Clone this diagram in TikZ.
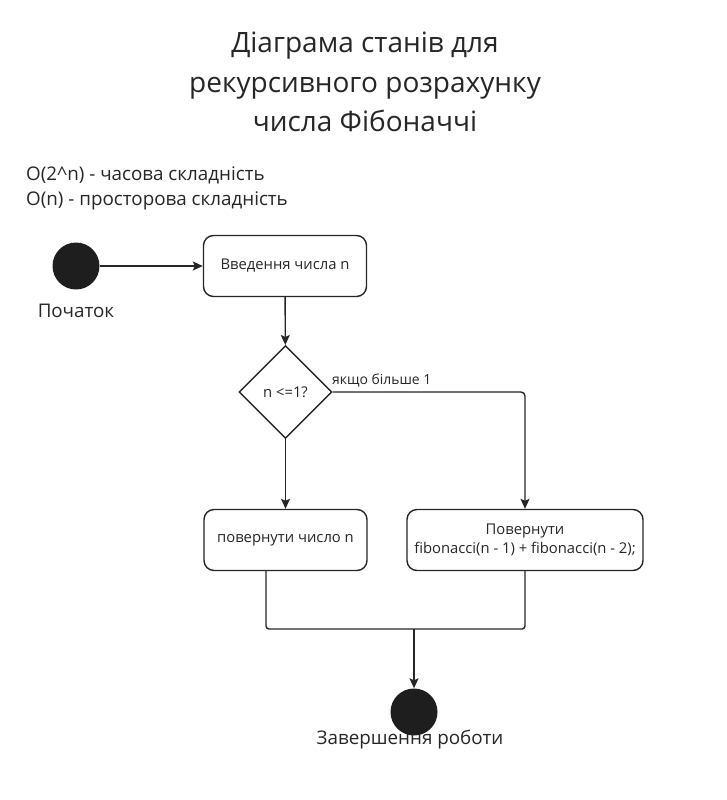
\documentclass[tikz,border=0pt]{standalone}
\usepackage{fontspec}
\setmainfont{Open Sans}
\usetikzlibrary{shapes.geometric,arrows.meta,calc}
\definecolor{ink}{HTML}{262626}
\definecolor{dot}{HTML}{1E1E1E}
\tikzset{
  stbox/.style={draw=ink, line width=1.4pt, rounded corners=10pt, minimum width=163pt, minimum height=61pt, align=center, text=ink, font=\fontsize{14.8}{19}\selectfont, inner sep=0pt},
  decision/.style={draw=ink, line width=1.4pt, diamond, aspect=1, minimum size=93pt, inner sep=0pt, text=ink, font=\fontsize{14.8}{19}\selectfont},
  blob/.style={circle, fill=dot, minimum size=47pt, inner sep=0pt},
  conn/.style={draw=ink, line width=1.4pt, -{Stealth[length=10pt,width=9pt,inset=2pt]}},
  plain/.style={draw=ink, line width=1.4pt, rounded corners=3pt},
  lbl/.style={text=ink, inner sep=0pt, font=\fontsize{18.8}{24}\selectfont},
}
\begin{document}
\begin{tikzpicture}[x=1pt,y=-1pt]
\useasboundingbox (0,0) rectangle (726,800);
% title
\node[text=ink, align=center, font=\fontsize{28}{39.5}\selectfont, inner sep=0pt] (title) at (365,82) {Діаграма станів для\\рекурсивного розрахунку\\числа Фібоначчі};
\node[lbl, anchor=west] (n1) at (26,175) {O(2\textasciicircum n) - часова складність};
\node[lbl, anchor=west] (n2) at (26,201) {O(n) - просторова складність};
% nodes
\node[blob] (start) at (76,266) {};
\node[lbl] (startl) at (76,311) {Початок};
\node[stbox] (b1) at (285,266) {Введення числа n};
\node[decision] (d) at (285.5,392) {n <=1?};
\node[stbox] (b2) at (285.5,540) {повернути число n};
\node[stbox, minimum width=236pt] (b3) at (525,540) {Повернути\\fibonacci(n - 1) + fibonacci(n - 2);};
\node[blob] (end) at (414,712) {};
\node[lbl] (endl) at (410,740) {Завершення роботи};
\node[anchor=base west, text=ink, font=\fontsize{13.9}{17}\selectfont, inner sep=0pt] (lab) at (332,384) {якщо більше 1};
\coordinate (j) at (414,629);
\coordinate (bl) at (266,570);
% connectors
\draw[conn] (start) -- (b1);
\draw[conn] (b1) -- (d);
\draw[conn] (d) -- (b2);
\draw[conn, rounded corners=4pt] (d.east) -| (b3.north);
\draw[plain] (b2.south -| bl) |- (j);
\draw[plain] (b3.south) |- (j);
\draw[conn] (j) -- (end);
\end{tikzpicture}
\end{document}
